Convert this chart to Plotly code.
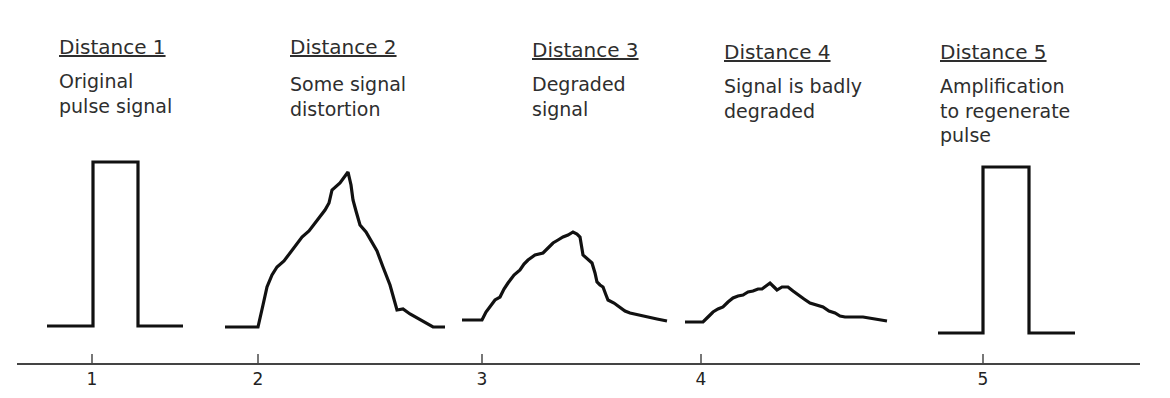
import plotly.graph_objects as go

# Distance scale (horizontal) and signal amplitude (vertical)
tick_positions = [92, 258, 482, 701, 983]
tick_labels = ["1", "2", "3", "4", "5"]

pulse1_x = [47, 93, 93, 138, 138, 183]
pulse1_y = [37, 37, 201, 201, 37, 37]

pulse2_x = [225, 258, 263, 267, 272, 277, 284, 290, 296, 302, 309, 315, 320, 325, 329, 332, 340, 348,
            351, 353, 356, 360, 366, 372, 377, 383, 390, 397, 403, 410, 417, 425, 433, 445]
pulse2_y = [36, 36, 58, 76, 88, 96, 102, 110, 119, 126, 132, 140, 146, 153, 160, 173, 180, 191,
            178, 163, 152, 138, 131, 120, 112, 96, 78, 53, 54, 49, 45, 40, 36, 36]

pulse3_x = [462, 482, 486, 490, 495, 500, 504, 508, 514, 520, 524, 528, 535, 543, 548, 553, 558, 563,
            568, 573, 577, 580, 583, 588, 592, 595, 597, 600, 603, 606, 608, 614, 620, 625, 630, 638, 647, 657, 667]
pulse3_y = [43, 43, 51, 56, 63, 66, 74, 80, 88, 93, 99, 103, 108, 110, 115, 120, 123, 126,
            128, 131, 129, 126, 108, 104, 100, 90, 81, 78, 76, 68, 63, 60, 56, 52, 50, 48, 46, 44, 42]

pulse4_x = [685, 703, 708, 713, 718, 723, 728, 733, 738, 743, 748, 753, 758, 762, 766, 770, 774, 777,
            782, 788, 793, 798, 804, 810, 816, 823, 829, 835, 840, 845, 855, 863, 875, 887]
pulse4_y = [41, 41, 46, 51, 54, 56, 61, 65, 67, 68, 71, 72, 74, 74, 77, 80, 76, 73,
            76, 76, 72, 68, 64, 60, 58, 56, 52, 50, 47, 46, 46, 46, 44, 42]

pulse5_x = [938, 983, 983, 1029, 1029, 1075]
pulse5_y = [30, 30, 196, 196, 30, 30]

# Labels above each pulse
label_titles = ["Distance 1", "Distance 2", "Distance 3", "Distance 4", "Distance 5"]
label_texts = [
    "Original<br>pulse signal",
    "Some signal<br>distortion",
    "Degraded<br>signal",
    "Signal is badly<br>degraded",
    "Amplification<br>to regenerate<br>pulse",
]
label_x = [57, 288, 530, 722, 938]
title_y = [316, 316, 313, 311, 311]
text_y = [269.5, 267, 266.5, 264.5, 253]

fig = go.Figure()
for xs, ys in [(pulse1_x, pulse1_y), (pulse2_x, pulse2_y), (pulse3_x, pulse3_y),
               (pulse4_x, pulse4_y), (pulse5_x, pulse5_y)]:
    fig.add_trace(go.Scatter(x=xs, y=ys, mode="lines",
                             line=dict(color="#111111", width=3.2, shape="linear"),
                             hoverinfo="skip", showlegend=False))

text_font = dict(family="DejaVu Sans", size=19, color="#2e2e2e")
title_font = dict(family="DejaVu Sans", size=20, color="#2e2e2e", lineposition="under")
for i in range(len(label_titles)):
    fig.add_annotation(x=label_x[i], y=title_y[i], xref="x", yref="y",
                       text=label_titles[i], showarrow=False, xanchor="left", yanchor="middle",
                       align="left", font=title_font)
    fig.add_annotation(x=label_x[i], y=text_y[i], xref="x", yref="y",
                       text=label_texts[i], showarrow=False, xanchor="left", yanchor="middle",
                       align="left", font=text_font)

# the page body has an 8 px margin, so the figure is offset by 8 px right and down
fig.update_layout(
    width=1170, height=398,
    margin=dict(l=9, r=38, t=0, b=43),
    paper_bgcolor="white", plot_bgcolor="white",
    showlegend=False,
)
fig.update_xaxes(range=[17, 1140], showgrid=False, zeroline=False,
                 showline=True, linecolor="#444444", linewidth=2,
                 ticks="inside", ticklen=9, tickwidth=2, tickcolor="#777777",
                 tickvals=tick_positions, ticktext=tick_labels,
                 tickfont=dict(family="DejaVu Sans", size=17, color="#222222"))
fig.update_yaxes(range=[0, 355], showgrid=False, zeroline=False, showline=False,
                 showticklabels=False, ticks="")

fig.write_html("out.html")
